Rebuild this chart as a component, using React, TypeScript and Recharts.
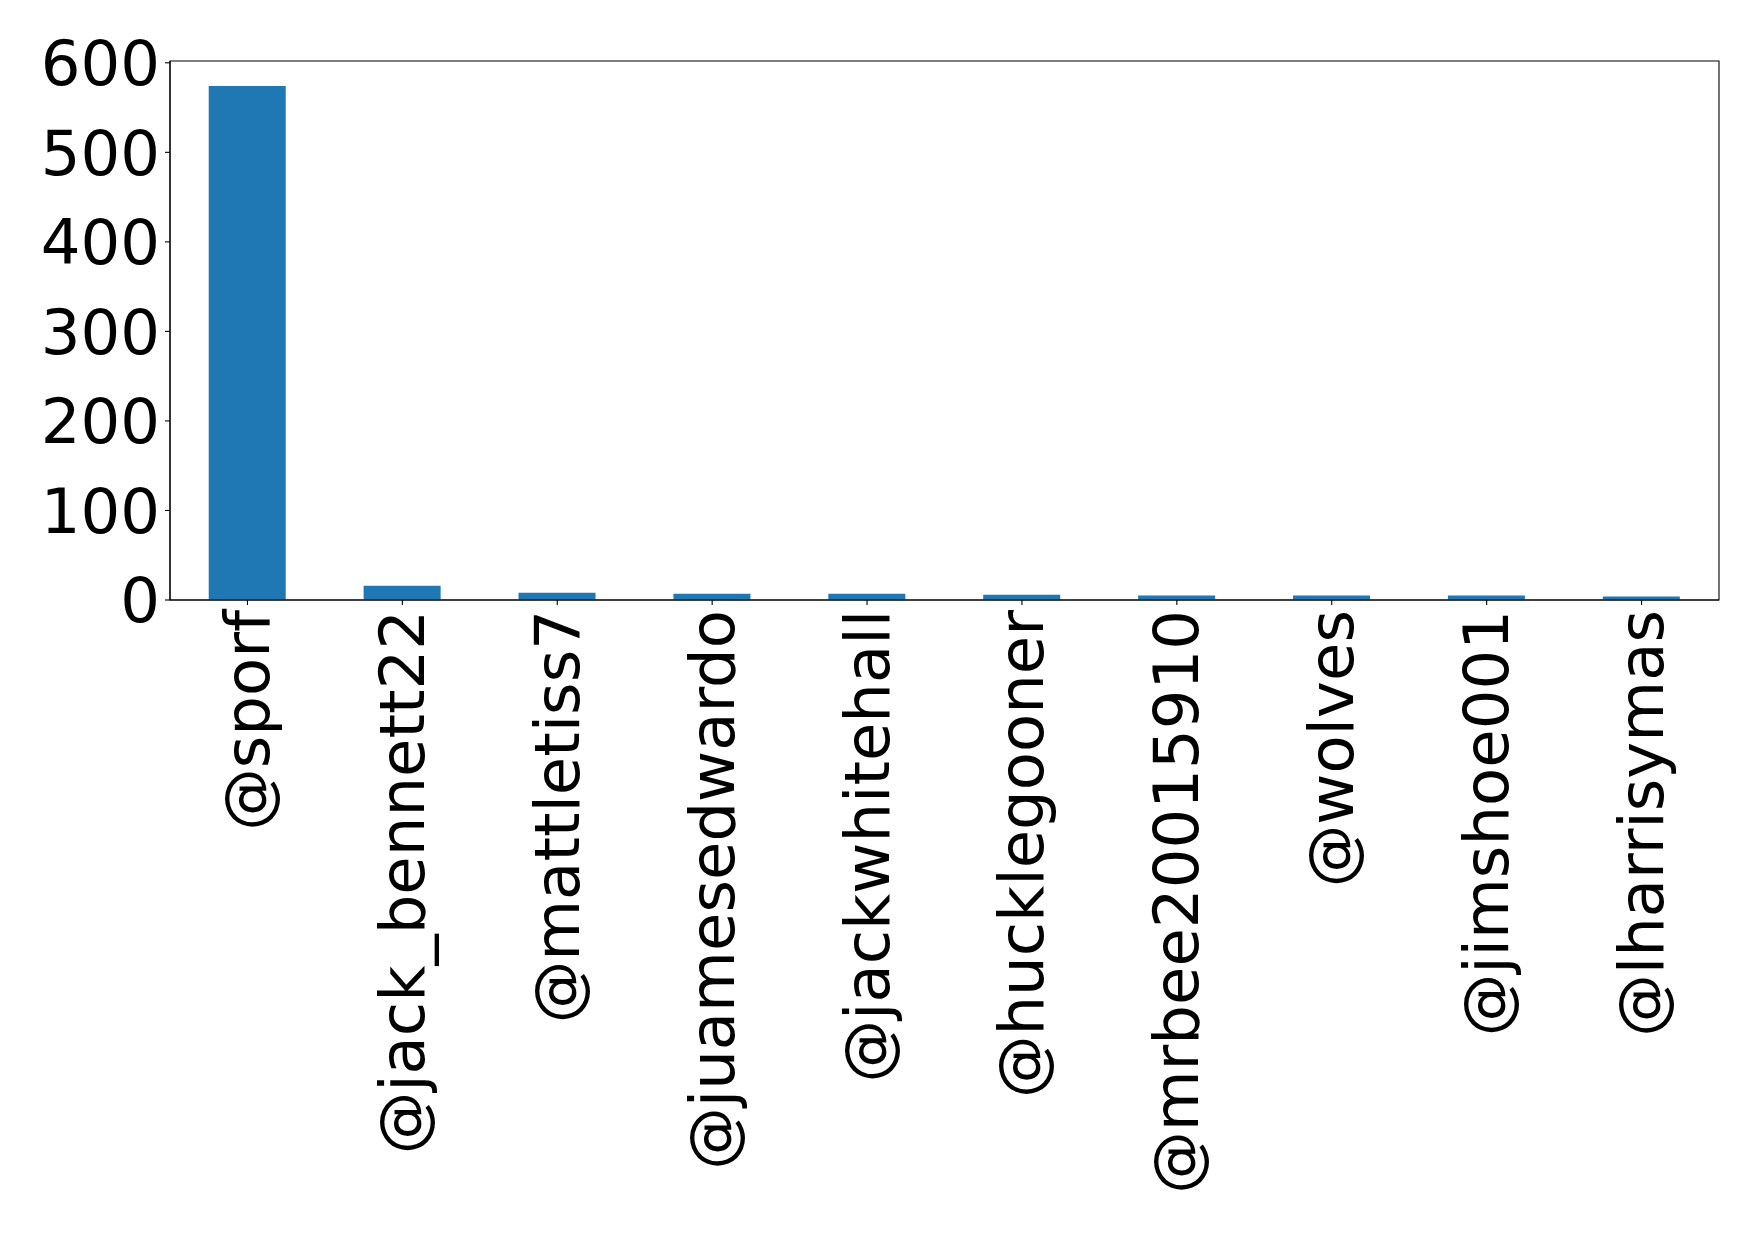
import React from 'react';
import { BarChart, Bar, XAxis, YAxis, ReferenceArea } from 'recharts';

const CATEGORIES = [
  '@sporf',
  '@jack_bennett22',
  '@mattletiss7',
  '@juamesedwardo',
  '@jackwhitehall',
  '@hucklegooner',
  '@mrbee20015910',
  '@wolves',
  '@jimshoe001',
  '@lharrisymas',
];
const COUNTS = [574, 16, 8, 7, 7, 6, 5, 5, 5, 4];
const Y_TICKS = [0, 100, 200, 300, 400, 500, 600];
const Y_MAX = 602;

const FONT = '"DejaVu Sans", sans-serif';
const FONT_SIZE = 62.5;

const data = CATEGORIES.map((name, i) => ({ name, count: COUNTS[i] }));

// rotated category labels, reading bottom to top, ending just under the tick
function RotatedTick(props: any) {
  const { x, y, payload } = props;
  return (
    <text
      transform={`translate(${x},${y}) rotate(-90)`}
      textAnchor="end"
      dominantBaseline="central"
      fontFamily={FONT}
      fontSize={FONT_SIZE}
      fill="#000"
    >
      {payload.value}
    </text>
  );
}

export default function App() {
  return (
    <div style={{ position: 'absolute', left: 0, top: 0, background: '#fff' }}>
      <BarChart
        width={1759}
        height={1233}
        data={data}
        margin={{ top: 61, right: 40, bottom: 0, left: 60 }}
        barCategoryGap="25%"
      >
        <XAxis
          dataKey="name"
          interval={0}
          height={633}
          stroke="#000"
          tick={<RotatedTick />}
          tickSize={5}
          tickMargin={5}
          axisLine={{ stroke: '#000', strokeWidth: 1.1 }}
          tickLine={{ stroke: '#000', strokeWidth: 1.1 }}
        />
        <YAxis
          domain={[0, Y_MAX]}
          ticks={Y_TICKS}
          width={110}
          stroke="#000"
          tickSize={5}
          tickMargin={5}
          tick={{ fontFamily: FONT, fontSize: FONT_SIZE, fill: '#000' }}
          axisLine={{ stroke: '#000', strokeWidth: 1.1 }}
          tickLine={{ stroke: '#000', strokeWidth: 1.1 }}
        />
        <Bar dataKey="count" fill="#1f77b4" isAnimationActive={false} />
        {/* frame round the plot area */}
        <ReferenceArea
          y1={0}
          y2={Y_MAX}
          fill="none"
          fillOpacity={0}
          stroke="#000"
          strokeWidth={1.1}
          ifOverflow="visible"
        />
      </BarChart>
    </div>
  );
}
